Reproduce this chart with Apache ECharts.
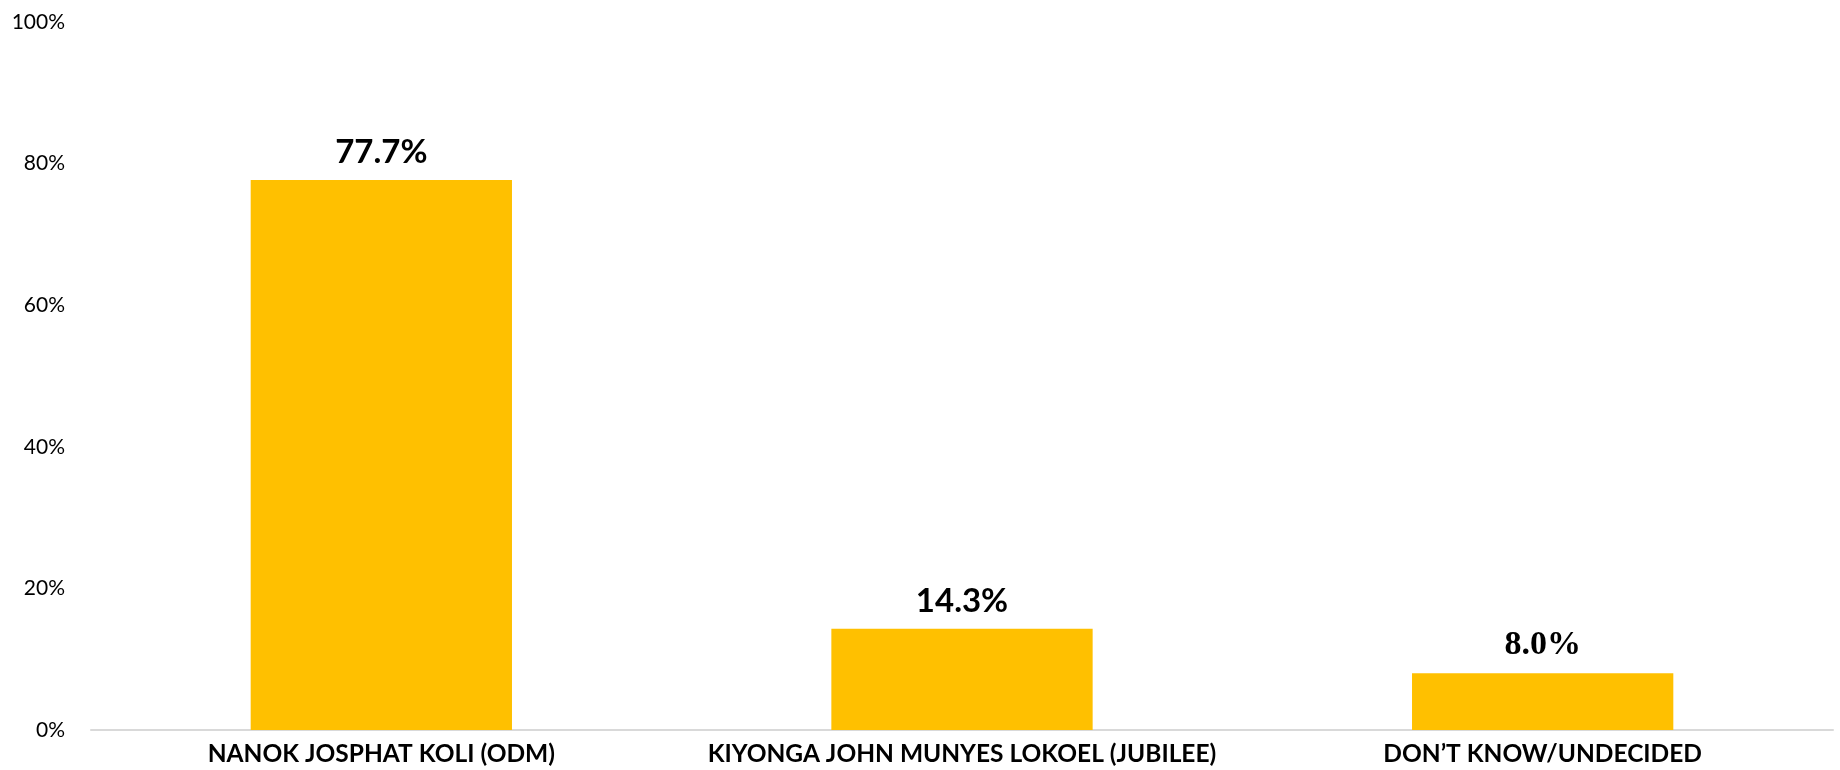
<!DOCTYPE html>
<html><head><meta charset="utf-8">
<script src="https://cdn.jsdelivr.net/npm/echarts@6/dist/echarts.min.js"></script>
<style>html,body{margin:0;padding:0;background:#fff}#c{width:1840px;height:770px}</style>
</head><body><div id="c"></div>
<script>
const categories = ["NANOK JOSPHAT KOLI (ODM)", "KIYONGA JOHN MUNYES LOKOEL (JUBILEE)", "DON\u2019T KNOW/UNDECIDED"];
const values = [77.7, 14.3, 8.0];
const labelFonts = ["Lato", "Lato", "Liberation Serif"];
const labelSizes = [33, 33, 34];

const chart = echarts.init(document.getElementById('c'));
chart.setOption({
  animation: false,
  grid: {left: 91, right: 7, top: 22, bottom: 40, containLabel: false},
  xAxis: {
    type: 'category', data: categories,
    axisLine: {lineStyle: {color: '#d9d9d9', width: 2}},
    axisTick: {show: false},
    axisLabel: {interval: 0, color: '#000', fontFamily: 'Lato', fontWeight: 'bold', fontSize: 24.5, margin: 12}
  },
  yAxis: {
    type: 'value', min: 0, max: 100, interval: 20,
    axisLine: {show: false}, axisTick: {show: false}, splitLine: {show: false},
    axisLabel: {color: '#000', fontFamily: 'Lato', fontSize: 21, margin: 26, formatter: '{value}%'}
  },
  series: [{
    type: 'bar', barWidth: '45%',
    itemStyle: {color: '#FFC000'},
    data: values.map((v, i) => ({
      value: v,
      label: {fontFamily: labelFonts[i], fontSize: labelSizes[i]}
    })),
    label: {show: true, position: 'top', distance: 11, color: '#000', fontWeight: 'bold',
      formatter: p => p.value.toFixed(1) + '%'}
  }]
});
</script></body></html>
